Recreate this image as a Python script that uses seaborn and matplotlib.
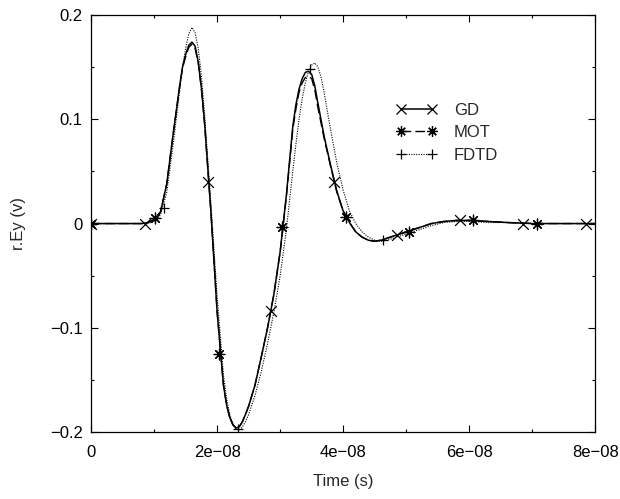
import numpy as np
import pandas as pd
import seaborn as sns
import matplotlib
matplotlib.use("Agg")
import matplotlib.pyplot as plt
from matplotlib.lines import Line2D
from matplotlib.ticker import MultipleLocator, FuncFormatter

# =====================
# Data (time in ns)
# =====================
time_ns = [0, 5, 8, 9, 10, 11, 12, 13, 14, 14.5, 15, 15.5, 16, 16.5, 17, 17.5, 18, 19,
           20, 21, 21.5, 22, 22.5, 23, 23.5, 24, 24.5, 25, 26, 27, 28, 29, 30, 31, 32,
           32.5, 33, 33.5, 34, 34.5, 35, 35.5, 36, 36.5, 37, 38, 39, 40, 41, 42, 43, 44,
           45, 46, 47, 48, 49, 50, 52, 54, 56, 58, 60, 63, 66, 70, 75, 80]

gd = [0, 0, 0, 0.001, 0.004, 0.011, 0.038, 0.085, 0.130, 0.150, 0.162, 0.171, 0.174,
      0.170, 0.155, 0.130, 0.097, 0.012, -0.085, -0.155, -0.174, -0.186, -0.193,
      -0.196, -0.195, -0.190, -0.183, -0.175, -0.155, -0.128, -0.100, -0.068, -0.027,
      0.028, 0.093, 0.114, 0.129, 0.139, 0.145, 0.146, 0.143, 0.132, 0.115, 0.099,
      0.083, 0.056, 0.031, 0.012, 0.001, -0.008, -0.013, -0.016, -0.017, -0.016,
      -0.014, -0.012, -0.010, -0.008, -0.004, 0.0, 0.002, 0.003, 0.003, 0.002, 0.001,
      0.0, 0.0, 0.0]

mot = [0, 0, 0, 0.001, 0.004, 0.011, 0.038, 0.085, 0.129, 0.149, 0.160, 0.169, 0.172,
       0.168, 0.154, 0.129, 0.096, 0.012, -0.085, -0.155, -0.174, -0.186, -0.193,
       -0.196, -0.195, -0.190, -0.183, -0.175, -0.155, -0.128, -0.100, -0.068, -0.027,
       0.027, 0.090, 0.110, 0.126, 0.135, 0.140, 0.141, 0.139, 0.128, 0.111, 0.096,
       0.081, 0.055, 0.030, 0.012, 0.001, -0.008, -0.013, -0.016, -0.017, -0.016,
       -0.014, -0.012, -0.010, -0.008, -0.004, 0.0, 0.002, 0.003, 0.003, 0.002, 0.001,
       0.0, 0.0, 0.0]

fdtd = [0, 0, 0, 0.0, 0.002, 0.008, 0.030, 0.075, 0.125, 0.150, 0.168, 0.182, 0.188,
        0.183, 0.168, 0.142, 0.105, 0.020, -0.070, -0.145, -0.168, -0.183, -0.192,
        -0.197, -0.198, -0.195, -0.190, -0.183, -0.165, -0.142, -0.115, -0.085, -0.050,
        -0.005, 0.050, 0.076, 0.100, 0.120, 0.135, 0.146, 0.152, 0.154, 0.150, 0.140,
        0.125, 0.090, 0.058, 0.032, 0.012, 0.0, -0.008, -0.013, -0.016, -0.017, -0.016,
        -0.014, -0.012, -0.010, -0.006, -0.002, 0.001, 0.002, 0.002, 0.001, 0.001,
        0.0, 0.0, 0.0]

# marker points (sparse, as in the original plot)
gd_mk_t = [0, 8.6, 18.6, 28.6, 38.6, 48.6, 58.6, 68.6, 78.6]
gd_mk_v = [0, 0.0, 0.040, -0.084, 0.040, -0.011, 0.003, 0.0, 0.0]
mot_mk_t = [0, 10.2, 20.3, 30.3, 40.5, 50.5, 60.6, 70.8]
mot_mk_v = [0, 0.005, -0.125, -0.003, 0.006, -0.008, 0.003, 0.0]
fdtd_mk_t = [0, 11.5, 23.3, 34.8, 46.3]
fdtd_mk_v = [0, 0.015, -0.197, 0.148, -0.016]

labels = ["GD", "MOT", "FDTD"]

# =====================
# Plot
# =====================
sns.set_theme(style="ticks")
plt.rcParams["font.family"] = ["Liberation Sans", "DejaVu Sans"]
plt.rcParams["font.size"] = 12

df = pd.DataFrame({"t": np.array(time_ns) * 1e-9, "GD": gd, "MOT": mot, "FDTD": fdtd})

fig = plt.figure(figsize=(6.2, 4.99), dpi=100)
ax = fig.add_axes([0.147, 0.134, 0.813, 0.836])

asterisk = (8, 2, 0)
styles = {
    "GD": dict(ls="-", marker="x", mk=(gd_mk_t, gd_mk_v), lw=1.1),
    "MOT": dict(ls=(0, (7, 3)), marker=asterisk, mk=(mot_mk_t, mot_mk_v), lw=1.0),
    "FDTD": dict(ls=(0, (1, 1.2)), marker="+", mk=(fdtd_mk_t, fdtd_mk_v), lw=0.8),
}

for name in ["FDTD", "MOT", "GD"]:
    st = styles[name]
    sns.lineplot(data=df, x="t", y=name, ax=ax, color="black", linewidth=st["lw"],
                 linestyle=st["ls"], estimator=None, sort=True)
    mk = pd.DataFrame({"t": np.array(st["mk"][0]) * 1e-9, "v": st["mk"][1]})
    sns.scatterplot(data=mk, x="t", y="v", ax=ax, marker=st["marker"], color="black",
                    s=60, linewidth=0.9, zorder=3)

ax.set_xlim(0, 8e-08)
ax.set_ylim(-0.2, 0.2)
ax.xaxis.set_major_locator(MultipleLocator(2e-08))
ax.xaxis.set_minor_locator(MultipleLocator(1e-08))
ax.yaxis.set_major_locator(MultipleLocator(0.1))
ax.yaxis.set_minor_locator(MultipleLocator(0.05))


def xfmt(v, pos):
    if abs(v) < 1e-20:
        return "0"
    return f"{v:.0e}".replace("-", "\u2212")


def yfmt(v, pos):
    if abs(v) < 1e-9:
        return "0"
    return f"{v:.1f}".replace("-", "\u2212")


ax.xaxis.set_major_formatter(FuncFormatter(xfmt))
ax.yaxis.set_major_formatter(FuncFormatter(yfmt))
ax.tick_params(which="both", direction="in", top=True, right=True, colors="black",
               labelsize=12, width=0.8)
ax.tick_params(which="major", length=5)
ax.tick_params(which="minor", length=2.5)
ax.tick_params(axis="x", which="major", pad=9)
ax.tick_params(axis="y", which="major", pad=6)
for sp in ax.spines.values():
    sp.set_color("black")
    sp.set_linewidth(0.9)

ax.set_xlabel("Time (s)", fontsize=12, labelpad=10)
ax.set_ylabel("r.Ey (v)", fontsize=12)
ax.yaxis.set_label_coords(-0.129, 0.5)

handles = [
    Line2D([], [], color="black", lw=styles[n]["lw"], ls=styles[n]["ls"],
           marker=styles[n]["marker"], ms=7.5, mew=0.9)
    for n in labels
]
ax.legend(handles, labels, loc="upper left", bbox_to_anchor=(0.604, 0.79),
          frameon=False, numpoints=2, handlelength=2.5, handletextpad=1.0,
          labelspacing=0.45, borderpad=0, borderaxespad=0, fontsize=12)

fig.savefig("out.png", dpi=100)
